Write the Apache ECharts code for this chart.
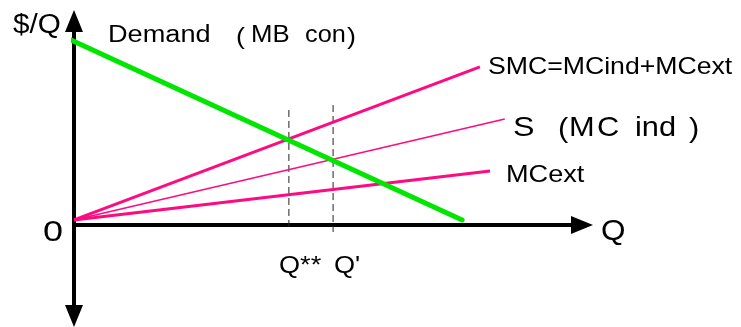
<!DOCTYPE html>
<html>
<head>
<meta charset="utf-8">
<script src="https://cdn.jsdelivr.net/npm/echarts@6/dist/echarts.min.js"></script>
<style>
html,body{margin:0;padding:0;background:#fff;}
#chart{width:741px;height:327px;}
</style>
</head>
<body>
<div id="chart"></div>
<script>
// Quantity (Q) and price ($/Q) values
const demandQ = [-0.1, 7.64];
const demandP = [9.12, 0.25];
const smcQ = [0, 7.99];
const smcP = [0.25, 7.75];
const sQ = [0, 8.48];
const sP = [0.25, 5.2];
const mcextQ = [0, 8.19];
const mcextP = [0.25, 2.65];
const qStarStar = 4.23;
const qStarStarP = [5.64, -0.15];
const qPrime = 5.10;
const qPrimeP = [5.88, -0.34];
const tickLabels = ["Q**", "Q'"];

const pink = '#ff0a80';
const green = '#00e600';
const FONT = "'Liberation Sans', Arial, sans-serif";

function pts(xs, ys) { return xs.map((x, i) => [x, ys[i]]); }

const chart = echarts.init(document.getElementById('chart'), null, {renderer: 'canvas'});

function txt(text, x, y, size, sx) {
  return {
    type: 'text', x: x, y: y, scaleX: sx, z: 100,
    style: {text: text, x: 0, y: 0, font: size + 'px ' + FONT, fill: '#000', verticalAlign: 'middle', align: 'left'}
  };
}

const option = {
  animation: false,
  grid: {left: 74, right: 159, top: 21, bottom: 11},
  xAxis: {
    type: 'value', min: 0, max: 10,
    axisLine: {onZero: true, symbol: ['none', 'triangle'], symbolSize: [18, 22], lineStyle: {color: '#000', width: 4}},
    axisTick: {show: false}, axisLabel: {show: false}, splitLine: {show: false}
  },
  yAxis: {
    type: 'value', min: -4.46, max: 10,
    axisLine: {onZero: true, symbol: ['triangle', 'triangle'], symbolSize: [18, 22], lineStyle: {color: '#000', width: 4}},
    axisTick: {show: false}, axisLabel: {show: false}, splitLine: {show: false}
  },
  series: [
    {type: 'line', data: pts([qStarStar, qStarStar], qStarStarP), symbol: 'none', clip: false,
     lineStyle: {color: '#222', width: 1, type: [7, 4]}, z: 1},
    {type: 'line', data: pts([qPrime, qPrime], qPrimeP), symbol: 'none', clip: false,
     lineStyle: {color: '#222', width: 1, type: [7, 4]}, z: 1},
    {type: 'line', data: pts(smcQ, smcP), symbol: 'none', clip: false, lineStyle: {color: pink, width: 3}, z: 2},
    {type: 'line', data: pts(sQ, sP), symbol: 'none', clip: false, lineStyle: {color: pink, width: 1.5}, z: 2},
    {type: 'line', data: pts(mcextQ, mcextP), symbol: 'none', clip: false, lineStyle: {color: pink, width: 3}, z: 2},
    {type: 'line', data: pts(demandQ, demandP), symbol: 'none', clip: false, lineStyle: {color: green, width: 5, cap: 'round'}, z: 3}
  ],
  graphic: [
    txt('$/Q', 13, 26, 27, 1.1),
    txt('Demand', 108, 36, 23, 1.18),
    txt('(', 236, 37, 24, 1.12),
    txt('MB', 251, 36, 23, 1.12),
    txt('con', 305, 36, 23, 1.1),
    txt(')', 347, 37, 24, 1.12),
    txt('SMC=MCind+MCext', 488, 67, 24, 1.11),
    txt('S', 513, 128, 28, 1.15),
    txt('(', 558, 129, 28, 1.1),
    txt('M', 569, 128, 28, 1.1),
    txt('C', 597, 128, 28, 1.1),
    txt('ind', 635, 128, 28, 1.1),
    txt(')', 689, 129, 28, 1.1),
    txt('MCext', 506, 175, 24, 1.13),
    txt('Q', 601, 232, 30, 1.05),
    txt('0', 43, 233, 30, 1.2),
    txt(tickLabels[0], 279, 266, 24, 1.13),
    txt(tickLabels[1], 334, 266, 24, 1.13)
  ]
};
chart.setOption(option);
</script>
</body>
</html>
